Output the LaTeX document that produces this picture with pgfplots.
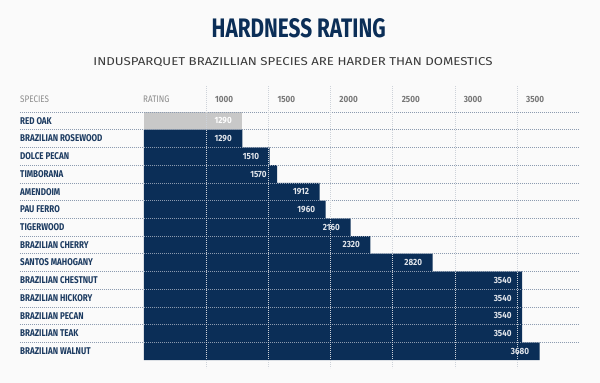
\documentclass[border=0pt]{standalone}
\usepackage{graphicx}
\usepackage{fontspec}
\setmainfont{Fira Sans}
\newfontfamily\cond[FakeStretch=0.82]{Fira Sans}
\newfontfamily\condh[FakeStretch=0.85]{Fira Sans}
\newfontfamily\condv[FakeStretch=0.9]{Fira Sans}
\usepackage{pgfplots}
\pgfplotsset{compat=1.18}
\definecolor{navy}{HTML}{0B2E57}
\definecolor{navytxt}{HTML}{1B3A60}
\definecolor{graybar}{HTML}{C8C8C8}
\definecolor{bgc}{HTML}{FAFAFA}
\definecolor{sepc}{HTML}{8C9BB0}
\definecolor{gridc}{HTML}{CDD2D9}
\definecolor{valtxt}{HTML}{E2E6EC}
\definecolor{subtxt}{HTML}{3A3A3A}
\definecolor{headtxt}{HTML}{8A8A8A}
\definecolor{ticktxt}{HTML}{777777}
\begin{document}
\begin{tikzpicture}
\fill[bgc] (0pt,0pt) rectangle (600pt,383pt);
\node[anchor=base,inner sep=0pt,text=navy] at (298.7pt,345.7pt)
  {\resizebox{174pt}{19pt}{\bfseries HARDNESS RATING}};
\node[anchor=base,inner sep=0pt,text=subtxt] at (293pt,317.3pt)
  {\resizebox{399pt}{8pt}{INDUSPARQUET BRAZILLIAN SPECIES ARE HARDER THAN DOMESTICS}};
\node[anchor=base west,inner sep=0pt,text=headtxt,font=\condh\fontsize{9.5}{11}\selectfont] at (20pt,280.3pt) {SPECIES};
\node[anchor=base west,inner sep=0pt,text=headtxt,font=\condh\fontsize{9.5}{11}\selectfont] at (143pt,280.3pt) {RATING};
\begin{axis}[
  at={(144pt,297pt)}, anchor=north west,
  scale only axis, width=435.4pt, height=282pt,
  xbar, bar width=1, bar shift=0pt,
  xmin=500, xmax=4000,
  ymin=-1.968, ymax=13.95, y dir=reverse,
  clip mode=individual,
  axis on top,
  axis line style={draw=none},
  major tick length=0pt,
  xtick={1000,1500,2000,2500,3000,3500},
  xticklabel pos=upper,
  xmajorgrids,
  major grid style={gridc, line width=0.6pt, dash pattern=on 0.8pt off 1.2pt},
  /pgf/number format/assume math mode=true,
  /pgf/number format/1000 sep={},
  xticklabel style={font=\condv\bfseries\fontsize{9}{10}\selectfont, text=ticktxt, anchor=base, xshift=18pt, yshift=-16.7pt},
  ytick={0,...,13},
  yticklabels={RED OAK, BRAZILIAN ROSEWOOD, DOLCE PECAN, TIMBORANA, AMENDOIM, PAU FERRO, TIGERWOOD, BRAZILIAN CHERRY, SANTOS MAHOGANY, BRAZILIAN CHESTNUT, BRAZILIAN HICKORY, BRAZILIAN PECAN, BRAZILIAN TEAK, BRAZILIAN WALNUT},
  yticklabel style={font=\cond\bfseries\fontsize{9.8}{11}\selectfont, text=navytxt, anchor=west, inner sep=0pt, xshift=-124pt},
  nodes near coords,
  every node near coord/.append style={anchor=east, xshift=-7pt, font=\condv\bfseries\fontsize{9}{10}\selectfont},
]
\addplot[fill=graybar, draw=none, every node near coord/.append style={text=white}] coordinates {(1290,0)};
\addplot[fill=navy, draw=none, every node near coord/.append style={text=valtxt}] coordinates {
(1290,1) (1510,2) (1570,3) (1912,4) (1960,5) (2160,6) (2320,7) (2820,8)
(3540,9) (3540,10) (3540,11) (3540,12) (3680,13)};
\pgfplotsinvokeforeach{-1,...,12}{
  \draw[sepc, line width=0.6pt, dash pattern=on 0.8pt off 1.2pt] (axis cs:-497,#1+0.5) -- (axis cs:4000,#1+0.5);
}
\end{axis}
\pgfresetboundingbox
\path[use as bounding box] (0pt,0pt) rectangle (600pt,383pt);
\end{tikzpicture}
\end{document}
